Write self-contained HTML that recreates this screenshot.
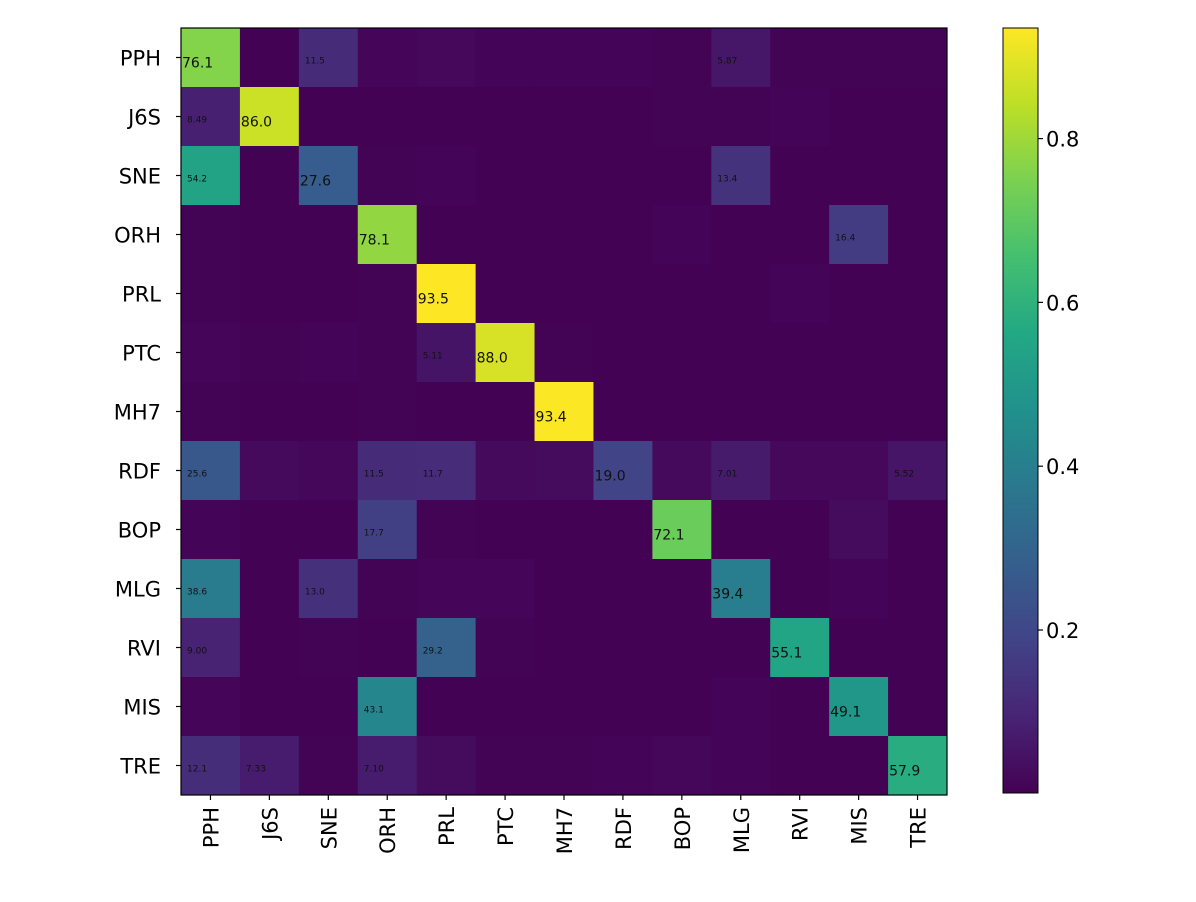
<!DOCTYPE html>
<html><head><meta charset="utf-8"><style>
body{margin:0;background:#fff;}
svg text{font-family:"DejaVu Sans","Liberation Sans",sans-serif;}
</style></head><body>
<svg id="chart" width="1196" height="897" xmlns="http://www.w3.org/2000/svg">
<defs>
<linearGradient id="vgrad" x1="0" y1="1" x2="0" y2="0">
<stop offset="0" stop-color="#440154"/><stop offset="0.1" stop-color="#482475"/><stop offset="0.2" stop-color="#414487"/><stop offset="0.3" stop-color="#355f8d"/><stop offset="0.4" stop-color="#2a788e"/><stop offset="0.5" stop-color="#21918c"/><stop offset="0.6" stop-color="#22a884"/><stop offset="0.7" stop-color="#44bf70"/><stop offset="0.8" stop-color="#7ad151"/><stop offset="0.9" stop-color="#bddf26"/><stop offset="1" stop-color="#fde725"/>
</linearGradient>
</defs>
<g id="cells"></g>
<g id="labels"></g>
<rect x="181" y="28" width="766" height="767" fill="none" stroke="#000" stroke-width="1.2"/>
<g id="yaxis"></g>
<g id="xaxis"></g>
<rect x="1003" y="28" width="35" height="765" fill="url(#vgrad)" stroke="#000" stroke-width="1"/>
<g id="cbticks"></g>
</svg>
<script>
const categories = ["PPH","J6S","SNE","ORH","PRL","PTC","MH7","RDF","BOP","MLG","RVI","MIS","TRE"];
const matrixPercent = [
[76.1,0.3,11.5,1.5,2,1,1,1,0.8,5.87,0.8,0.8,0.8],
[8.49,86.0,0.3,0.3,0.3,0.3,0.3,0.3,0.8,0.8,1.2,0.3,0.3],
[54.2,0.3,27.6,0.8,1.2,0.5,0.5,0.5,0.5,13.4,0.5,0.5,0.5],
[0.8,0.5,0.5,78.1,0.5,0.5,0.5,0.5,1.2,0.5,0.5,16.4,0.5],
[0.8,0.5,0.5,0.8,93.5,0.5,0.5,0.5,0.5,0.5,1.2,0.5,0.5],
[1.5,0.8,1.2,0.8,5.11,88.0,0.8,0.5,0.5,0.5,0.5,0.5,0.5],
[0.8,0.5,0.5,0.8,0.5,0.5,93.4,0.5,0.5,0.5,0.5,0.5,0.5],
[25.6,2.5,1.8,11.5,11.7,2.5,3,19.0,2.5,7.01,2,2,5.52],
[1.2,0.5,0.5,17.7,0.8,0.5,0.5,0.5,72.1,0.5,0.5,3,0.5],
[38.6,0.5,13.0,0.8,1.5,1.5,0.5,0.5,0.5,39.4,0.5,1.2,0.5],
[9.00,0.5,0.8,0.5,29.2,0.8,0.5,0.5,0.5,0.5,55.1,0.5,0.5],
[1.5,0.5,0.5,43.1,0.5,0.5,0.5,0.5,0.5,1.2,0.5,49.1,0.5],
[12.1,7.33,0.8,7.10,3,0.8,0.8,1.2,1.8,1.2,0.5,0.5,57.9]
];
const colorbarTicks = [0.2,0.4,0.6,0.8];
const colorbarTickLabels = ["0.2","0.4","0.6","0.8"];
const vmin = 0.001, vmax = 0.935;

const NS="http://www.w3.org/2000/svg";
const x0=181,y0=28,W=766,H=767,n=categories.length,cw=W/n,ch=H/n;
const xPos=i=>x0+i*cw, yPos=i=>y0+i*ch;
const cbY=v=>793-(v-vmin)/(vmax-vmin)*765;
const stops=["#440154","#482475","#414487","#355f8d","#2a788e","#21918c","#22a884","#44bf70","#7ad151","#bddf26","#fde725"].map(h=>[1,3,5].map(k=>parseInt(h.substr(k,2),16)));
function viridis(t){t=Math.max(0,Math.min(1,t));const p=t*10,i=Math.min(9,Math.floor(p)),f=p-i;const c=stops[i].map((a,k)=>Math.round(a+(stops[i+1][k]-a)*f));return `rgb(${c})`;}
function fmt(v){return v>=10?v.toFixed(1):v.toFixed(2);}
function mk(tag,attrs,parent){const e=document.createElementNS(NS,tag);for(const k in attrs)e.setAttribute(k,attrs[k]);parent.appendChild(e);return e;}
const gC=document.getElementById('cells'),gL=document.getElementById('labels');
matrixPercent.forEach((row,r)=>{
  row.forEach((v,c)=>{
    const frac=v/100;
    const rc=mk('rect',{x:xPos(c),y:yPos(r),width:cw+0.5,height:ch+0.5,fill:viridis((frac-vmin)/(vmax-vmin))},gC);
    
    
    if(v>=5){
      const diag=r===c;
      const t=mk('text',{x:xPos(c)+(diag?1:6),y:yPos(r)+ch/2+(diag?10:6),'font-size':diag?14:9,fill:'#111'},gL);
      t.textContent=fmt(v);
      
      
    }
  });
});
const gY=document.getElementById('yaxis'),gX=document.getElementById('xaxis');
categories.forEach((cat,i)=>{
  const cy=yPos(i)+ch/2;
  mk('line',{x1:x0-5,x2:x0,y1:cy,y2:cy,stroke:'#000','stroke-width':1.2},gY);
  const t=mk('text',{x:x0-20,y:cy+8,'font-size':21,'text-anchor':'end',fill:'#000'},gY);
  t.textContent=cat;
  
  
  const cx=xPos(i)+cw/2;
  mk('line',{x1:cx,x2:cx,y1:y0+H,y2:y0+H+5,stroke:'#000','stroke-width':1.2},gX);
  const tx=mk('text',{x:0,y:0,'font-size':21,'text-anchor':'end',fill:'#000',transform:`translate(${cx+8},${y0+H+12}) rotate(-90)`},gX);
  tx.textContent=cat;
  
  
});
const gT=document.getElementById('cbticks');
colorbarTicks.forEach((v,i)=>{
  const y=cbY(v);
  mk('line',{x1:1038,x2:1043,y1:y,y2:y,stroke:'#000','stroke-width':1.2},gT);
  const t=mk('text',{x:1046,y:y+8,'font-size':21,fill:'#000'},gT);
  t.textContent=colorbarTickLabels[i];
  
  
});
</script>
</body></html>
